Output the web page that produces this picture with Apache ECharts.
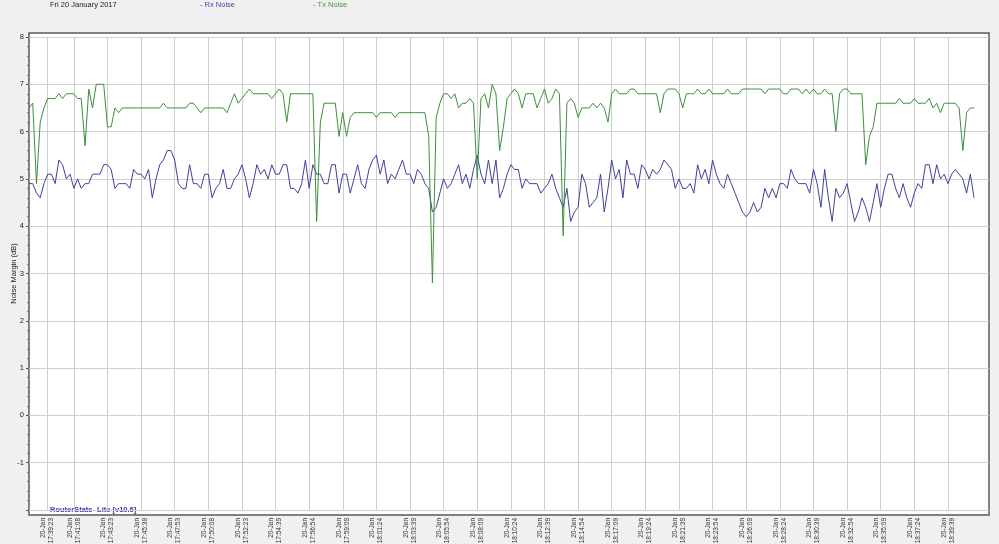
<!DOCTYPE html>
<html>
<head>
<meta charset="utf-8">
<script src="https://cdn.jsdelivr.net/npm/echarts@6/dist/echarts.min.js"></script>
<style>
html, body { margin: 0; padding: 0; background: #f0f0f0; }
#chart { width: 999px; height: 544px; }
</style>
</head>
<body>
<div id="chart"></div>
<script>
// samples, roughly every 15 s from about 17:38
var rxNoise = [
  4.9, 4.9, 4.7, 4.6, 4.9, 5.1, 5.1, 4.9, 5.4, 5.3,
  5.0, 5.1, 4.8, 5.0, 4.8, 4.9, 4.9, 5.1, 5.1, 5.1,
  5.3, 5.3, 5.2, 4.8, 4.9, 4.9, 4.9, 4.8, 5.2, 5.1,
  5.1, 5.0, 5.2, 4.6, 5.0, 5.3, 5.4, 5.6, 5.6, 5.4,
  4.9, 4.8, 4.8, 5.3, 4.9, 4.9, 4.8, 5.1, 5.1, 4.6,
  4.8, 4.9, 5.2, 4.8, 4.8, 5.0, 5.1, 5.3, 5.0, 4.6,
  4.9, 5.3, 5.1, 5.2, 5.0, 5.3, 5.1, 5.1, 5.3, 5.3,
  4.8, 4.8, 4.7, 4.9, 5.4, 4.8, 5.3, 5.1, 5.1, 4.9,
  4.9, 5.3, 5.3, 4.7, 5.1, 5.1, 4.7, 5.0, 5.3, 4.9,
  4.8, 5.2, 5.4, 5.5, 5.1, 5.4, 4.9, 5.1, 5.0, 5.2,
  5.4, 5.1, 5.1, 4.9, 5.2, 5.1, 4.9, 4.8, 4.3, 4.4,
  4.7, 5.0, 4.8, 4.9, 5.1, 5.3, 4.9, 5.1, 4.8, 5.2,
  5.5, 5.1, 4.9, 5.4, 4.9, 5.4, 4.6, 4.8, 5.1, 5.3,
  5.2, 5.2, 4.8, 5.0, 4.9, 4.9, 4.9, 4.7, 4.8, 4.9,
  5.1, 4.8, 4.6, 4.4, 4.8, 4.1, 4.3, 4.4, 5.1, 4.9,
  4.4, 4.5, 4.6, 5.1, 4.3, 4.8, 5.4, 5.0, 5.2, 4.6,
  5.4, 5.1, 5.1, 4.8, 5.3, 5.2, 5.0, 5.2, 5.1, 5.2,
  5.4, 5.3, 5.2, 4.8, 5.0, 4.8, 4.8, 4.9, 4.7, 5.3,
  5.0, 5.2, 4.9, 5.4, 5.1, 4.9, 4.8, 5.1, 4.9, 4.7,
  4.5, 4.3, 4.2, 4.3, 4.5, 4.3, 4.4, 4.8, 4.6, 4.8,
  4.6, 4.9, 4.9, 4.8, 5.2, 5.0, 4.9, 4.9, 4.9, 4.7,
  5.2, 4.9, 4.4, 5.2, 4.6, 4.1, 4.8, 4.6, 4.7, 4.9,
  4.5, 4.1, 4.3, 4.6, 4.4, 4.1, 4.5, 4.9, 4.4, 4.8,
  5.1, 5.1, 4.8, 4.6, 4.9, 4.6, 4.4, 4.7, 4.9, 4.8,
  5.3, 5.3, 4.9, 5.3, 5.0, 5.1, 4.9, 5.1, 5.2, 5.1,
  5.0, 4.7, 5.1, 4.6
];

var txNoise = [
  6.5, 6.6, 4.9, 6.2, 6.5, 6.7, 6.7, 6.7, 6.8, 6.7,
  6.8, 6.8, 6.8, 6.7, 6.7, 5.7, 6.9, 6.5, 7.0, 7.0,
  7.0, 6.1, 6.1, 6.5, 6.4, 6.5, 6.5, 6.5, 6.5, 6.5,
  6.5, 6.5, 6.5, 6.5, 6.5, 6.5, 6.6, 6.5, 6.5, 6.5,
  6.5, 6.5, 6.5, 6.6, 6.6, 6.5, 6.4, 6.5, 6.5, 6.5,
  6.5, 6.5, 6.5, 6.4, 6.6, 6.8, 6.6, 6.7, 6.8, 6.9,
  6.8, 6.8, 6.8, 6.8, 6.8, 6.7, 6.8, 6.9, 6.8, 6.2,
  6.8, 6.8, 6.8, 6.8, 6.8, 6.8, 6.8, 4.1, 6.2, 6.6,
  6.6, 6.6, 6.6, 5.9, 6.4, 5.9, 6.3, 6.4, 6.4, 6.4,
  6.4, 6.4, 6.4, 6.3, 6.4, 6.4, 6.4, 6.4, 6.3, 6.4,
  6.4, 6.4, 6.4, 6.4, 6.4, 6.4, 6.4, 5.9, 2.8, 6.3,
  6.6, 6.8, 6.8, 6.7, 6.8, 6.5, 6.6, 6.6, 6.7, 6.6,
  5.0, 6.7, 6.8, 6.5, 7.0, 6.8, 5.6, 6.1, 6.7, 6.8,
  6.9, 6.8, 6.5, 6.8, 6.8, 6.8, 6.5, 6.7, 6.9, 6.6,
  6.7, 6.9, 6.8, 3.8, 6.6, 6.7, 6.6, 6.3, 6.5, 6.5,
  6.5, 6.6, 6.5, 6.6, 6.5, 6.2, 6.8, 6.9, 6.8, 6.8,
  6.8, 6.9, 6.9, 6.8, 6.8, 6.8, 6.8, 6.8, 6.8, 6.4,
  6.8, 6.9, 6.9, 6.9, 6.8, 6.5, 6.8, 6.8, 6.8, 6.9,
  6.8, 6.8, 6.9, 6.8, 6.8, 6.8, 6.8, 6.9, 6.8, 6.8,
  6.8, 6.9, 6.9, 6.9, 6.9, 6.9, 6.9, 6.8, 6.9, 6.9,
  6.9, 6.9, 6.8, 6.8, 6.9, 6.9, 6.9, 6.8, 6.9, 6.8,
  6.9, 6.8, 6.8, 6.9, 6.8, 6.8, 6.0, 6.8, 6.9, 6.9,
  6.8, 6.8, 6.8, 6.8, 5.3, 5.9, 6.1, 6.6, 6.6, 6.6,
  6.6, 6.6, 6.6, 6.7, 6.6, 6.6, 6.6, 6.7, 6.6, 6.6,
  6.6, 6.7, 6.5, 6.6, 6.4, 6.6, 6.6, 6.6, 6.6, 6.5,
  5.6, 6.4, 6.5, 6.5
];

// sample positions that carry a time label, and the labels
var tickIdx = [5, 12, 21, 30, 39, 48, 57, 66, 75, 84, 93, 102, 111, 120,
  129, 138, 147, 156, 165, 174, 183, 192, 201, 210, 219, 228, 237, 246];
var tickLabels = ['17:39:23', '17:41:08', '17:43:23', '17:45:38', '17:47:53',
  '17:50:08', '17:52:23', '17:54:39', '17:56:54', '17:59:09', '18:01:24',
  '18:03:39', '18:05:54', '18:08:09', '18:10:24', '18:12:39', '18:14:54',
  '18:17:09', '18:19:24', '18:21:39', '18:23:54', '18:26:09', '18:28:24',
  '18:30:39', '18:32:54', '18:35:09', '18:37:24', '18:39:39'];
var tickDay = '20-Jan';

// axis runs a few slots past the last sample
var slotCount = 258;
var slots = [];
for (var i = 0; i < slotCount; i++) slots.push(String(i));

function isTick(index) {
  return tickIdx.indexOf(index) >= 0;
}

var font = 'Liberation Sans, Arial, sans-serif';
var myChart = echarts.init(document.getElementById('chart'));

var option = {
  backgroundColor: '#f0f0f0',
  animation: false,
  textStyle: { fontFamily: font },
  grid: {
    left: 29, right: 10, top: 37, bottom: 34,
    containLabel: false,
    outerBoundsMode: 'none'
  },
  graphic: [
    {
      type: 'rect', z: -10, silent: true,
      shape: { x: 29, y: 33, width: 960, height: 482 },
      style: { fill: '#ffffff', stroke: '#5a5a5a', lineWidth: 1.5 }
    },
    {
      type: 'text', left: 50, top: 1,
      style: { text: 'Fri 20 January 2017', fill: '#222', fontSize: 7.5, fontFamily: font }
    },
    {
      type: 'text', left: 200, top: 1,
      style: { text: '- Rx Noise', fill: '#4646b0', fontSize: 7.5, fontFamily: font }
    },
    {
      type: 'text', left: 313, top: 1,
      style: { text: '- Tx Noise', fill: '#3f963f', fontSize: 7.5, fontFamily: font }
    },
    {
      type: 'text', left: 50, top: 506,
      style: { text: 'RouterStats -Lite [v10.6]', fill: '#3a3ab0', fontSize: 7.5, fontWeight: 'bold', fontFamily: font }
    }
  ],
  xAxis: {
    type: 'category',
    data: slots,
    boundaryGap: false,
    axisLine: { show: false },
    axisTick: { show: false },
    axisLabel: {
      interval: function (index) { return isTick(index); },
      rotate: 90,
      fontSize: 6.5,
      lineHeight: 8,
      color: '#333',
      margin: 8,
      formatter: function (value, index) {
        var k = tickIdx.indexOf(index);
        return k < 0 ? '' : tickDay + '\n' + tickLabels[k];
      }
    },
    splitLine: {
      show: true,
      interval: function (index) { return isTick(index); },
      lineStyle: { color: '#cfcfcf', width: 1 }
    }
  },
  yAxis: {
    type: 'value',
    min: -2,
    max: 8,
    interval: 1,
    name: 'Noise Margin (dB)',
    nameLocation: 'middle',
    nameGap: 11,
    nameMoveOverlap: false,
    nameTextStyle: { fontSize: 7.5, color: '#222' },
    axisLine: { show: false },
    axisTick: { show: true, length: 3, lineStyle: { color: '#555' } },
    minorTick: { show: true, splitNumber: 5, length: 2, lineStyle: { color: '#777' } },
    axisLabel: {
      fontSize: 7.5,
      color: '#222',
      margin: 5,
      formatter: function (v) { return v === -2 ? '' : v; }
    },
    splitLine: { lineStyle: { color: '#cfcfcf', width: 1 } }
  },
  series: [
    {
      name: 'Rx Noise', type: 'line', data: rxNoise,
      symbol: 'none', lineStyle: { color: '#40409e', width: 1 }, itemStyle: { color: '#40409e' }
    },
    {
      name: 'Tx Noise', type: 'line', data: txNoise,
      symbol: 'none', lineStyle: { color: '#3c8f3c', width: 1 }, itemStyle: { color: '#3c8f3c' }
    }
  ]
};

myChart.setOption(option);
</script>
</body>
</html>
